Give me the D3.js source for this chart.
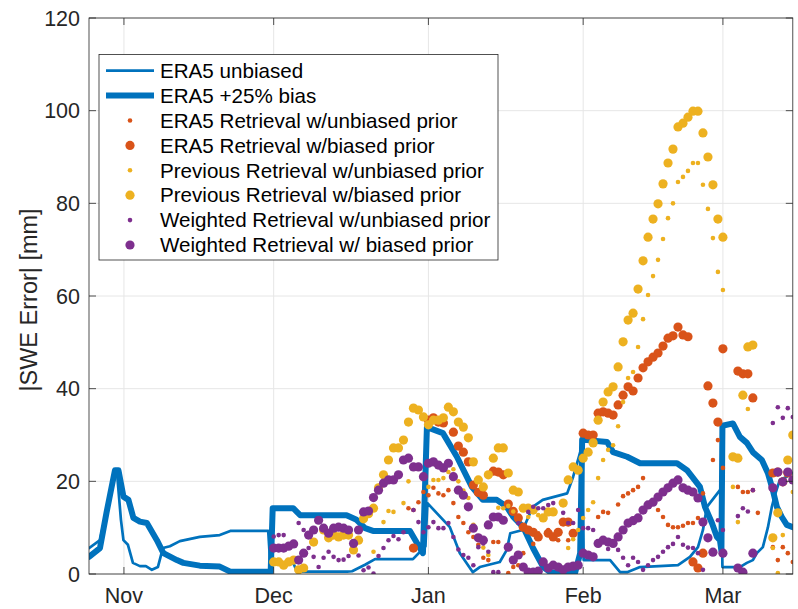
<!DOCTYPE html>
<html><head><meta charset="utf-8">
<script src="https://cdn.jsdelivr.net/npm/d3@7"></script>
<style>body{margin:0;background:#fff} svg{display:block}</style>
</head><body>
<svg id="chart" width="798" height="609"></svg>
<script>
// ---------------- DATA ----------------
const seasonStart = "2018-10-25";
const seasonEnd = "2019-03-15";
const scatterStart = "2018-12-01";   // first day of the daily retrieval series
const yTicks = [0, 20, 40, 60, 80, 100, 120];
const monthTicks = ["2018-11-01", "2018-12-01", "2019-01-01", "2019-02-01", "2019-03-01"];
const monthLabels = ["Nov", "Dec", "Jan", "Feb", "Mar"];

// ERA5 unbiased (thin line): days since season start, SWE error
const unbiasedDays = [0, 2.2, 3.5, 5.0, 5.6, 6.4, 6.9, 7.8, 8.8, 10.2, 11.4, 12.6, 13.8, 14.8, 16.2, 18.2, 22.2, 26.2, 28.3, 35.9, 36.3, 40.9, 41.7, 51.7, 52.7, 55.3, 57.3, 64.9, 67.4, 67.8, 72.3, 74.3, 76.9, 78.3, 82.3, 83.7, 84.4, 86.9, 88.9, 90.9, 95.8, 97.0, 98.6, 98.9, 99.1, 104.4, 106.4, 107.8, 110.4, 118.0, 120.4, 122.0, 123.0, 123.8, 126.4, 126.7, 126.9, 130.4, 131.8, 133.0, 133.8, 135.0, 136.0, 136.8, 137.4, 138.4, 139.8, 141];
const unbiasedValues = [5.6, 7.3, 13.8, 22, 22, 11.7, 7.3, 6.3, 2.4, 1.7, 1.7, 0.9, 1.5, 5.6, 6.0, 7.1, 8.0, 8.4, 9.3, 9.3, 2.4, 2.4, 0.5, 0.5, 0.6, 2.0, 3.2, 3.2, 6.0, 15.3, 10.1, 4.5, 0.4, 1.5, 2.6, 5.2, 8.8, 9.5, 14.5, 16, 17.4, 21, 27, 29, 3, 3, 0.4, 0.4, 1.5, 1.9, 3.7, 5.8, 9.5, 14.5, 18.1, 18, 1.5, 1.5, 2.4, 3.0, 4.5, 5.8, 10.0, 14.5, 17, 20.3, 21, 21.8];

// ERA5 +25% bias (thick line)
const biasedDays = [0, 2.2, 3.5, 5.2, 5.9, 6.9, 7.9, 8.9, 10.2, 11.6, 13.6, 14.9, 17.6, 18.9, 22.2, 26.2, 28.3, 36.4, 36.8, 40.9, 42.3, 51.6, 53.6, 55.3, 56.9, 64.3, 66.9, 67.7, 70.9, 73.7, 76.7, 78.9, 81.7, 83.7, 85.0, 87.0, 89.0, 91.0, 92.5, 97.4, 98.4, 98.8, 103.8, 105.0, 107.8, 110.4, 117.8, 119.8, 122.4, 123.4, 124.8, 125.8, 126.4, 126.7, 126.9, 129.0, 130.4, 131.8, 133.0, 134.8, 136.0, 137.0, 137.8, 138.8, 139.8, 141];
const biasedValues = [3.7, 5.6, 13.2, 22.4, 22.4, 16.7, 16, 12.1, 11.3, 11, 7.3, 4.5, 3.0, 2.4, 1.8, 1.6, 0.5, 0.5, 14.2, 14.2, 12.7, 12.7, 11.7, 9.9, 9.3, 9.3, 4.5, 31.7, 30.4, 25.3, 18.8, 16, 16, 14.5, 12.3, 10.1, 5.5, 1.5, 0.3, 0.3, 4.5, 29, 28.5, 26.3, 25.3, 23.9, 23.9, 22.4, 18.8, 14.5, 11, 8, 7.3, 5, 32, 32.5, 29.6, 28.3, 26.3, 24.6, 21.8, 18.1, 14.5, 12.3, 10.6, 10.1];

// Daily retrievals from Dec 1 (null = no retrieval that day)
const era5Unbiased = [null,null,null,null,null,null,null,null,null,null,null,null,null,null,null,null,null,null,null,null,null,null,null,null,null,null,null,14.2,13.8,15.5,17.7,17,18.6,17.4,17,18.1,15.3,12.3,11,9,8,6.3,3.5,3,6.9,6.9,null,0.2,1.5,1.9,4.5,null,6.5,8.8,null,9.5,null,7.3,null,7.3,null,null,null,null,null,12.3,13.4,13.2,null,15,16.8,17.4,18.1,18.8,20.7,null,null,13.8,12.3,10.6,10.1,10.1,10.4,11,11,12.1,17.4,null,24.6,28.9,22.9,null,null,18.8,17.7,17.7,18.1,13.2,null,null,5.8,3,5.8,4.5,2.6];
const era5Biased = [null,null,null,null,null,null,null,null,null,null,null,null,null,null,null,null,null,null,null,null,null,null,null,null,null,null,null,null,5.6,null,null,33.2,33.7,32.8,32.6,null,30.6,27.6,26.3,24.2,19.2,17.6,17,null,22.2,22,21.4,15.1,13.5,12.1,10.1,9.5,9,8,null,8.8,8,9,11.2,11.2,8.8,null,30.4,30,30,34.7,35,34.7,34.3,36.5,38.6,40.4,39.5,42.3,44.5,45.8,46.8,47.7,49.2,50.9,51.4,53.3,51.6,51.2,2.6,1.3,4.5,40.6,36.9,32.8,48.6,null,null,43.8,43.2,43.2,38,null,null,null,21.8,22,19.9,21.8,null];
const prevUnbiased = [null,null,null,null,null,null,null,null,null,null,null,null,null,null,null,null,null,null,null,null,4.8,null,11.2,13.6,13.4,null,15.3,20,23,null,null,18.8,20.3,20.3,20.7,22,22.6,20,18,16.4,10.6,8,5.7,4.1,null,14.3,14.2,14.7,13.5,null,13.8,12.3,null,12.7,null,null,null,null,null,5.6,7.5,9.5,12.1,13.8,15.5,20.7,24.6,26.8,27.8,31.9,37.1,42.3,43.6,49,55,60.2,64.3,67.8,72.3,76.8,80,84.6,85.7,87,88.7,88.7,84,78.8,72.5,65.2,61.3,null,18.8,11.2,null,35.6,null,null,null,null,5.6,0.2,8.4,null,17.7];
const prevBiased = [2.6,2.6,1.9,2.6,3.0,0.9,1.3,null,6.9,null,9.5,7.8,8.4,8,8.4,8.4,5.2,7.3,11.9,13,14.2,18.6,21.4,24.6,27.2,27.2,28.9,32.8,35.8,35.4,33.9,32.2,33.2,33.2,33.7,36,35,32.8,31.7,29.4,24.2,20.3,18.8,21.4,25,27.2,27.2,21.8,18.1,17.7,14.2,14.2,13.8,null,12.1,13.4,13.4,null,15.3,20.3,23.1,22.4,25,26.3,28.3,33.2,37.1,39.3,40.4,44.7,50.1,54.8,56.3,61.5,67.6,72.7,76.6,79.9,84.2,88.7,91.7,96.5,97.3,98.6,99.9,99.9,95.2,90,84,76.6,72.7,null,25.3,25,38.6,49,49.4,null,null,null,7.8,13.2,null,24.6,30];
const weightedUnbiased = [8.1,8.4,8.4,null,null,11,9.5,5.6,3.7,1.5,3.5,4.8,3.7,3.0,3.1,3.9,null,4.0,0.8,1.4,0.1,3.9,5.6,7.3,8.2,7.5,9,null,13.8,11.2,9,10.1,11.2,9.9,9.9,11,8,5.3,4.1,3.5,1.9,5.8,6.6,4.8,0.4,0.4,null,null,null,11,null,13.4,14.5,14.2,14.2,14.9,15.3,null,13.2,11,11,13.8,9.9,9.9,9.5,null,null,5.4,null,5.2,3.5,1.9,3.5,2.6,0.9,1.9,3,3.7,4.8,5.8,6.5,8,6.3,5.7,5.6,4.5,0.9,null,null,11.6,9.5,null,null,12.5,14.2,13.5,18.1,null,null,null,32.6,36,33.7,35.8,33.9];
const weightedBiased = [5.6,5.6,5.6,6.0,6.5,3.0,4.5,8.4,9.5,11.6,9.9,8.8,9.9,10.1,9.9,9.5,6.6,9.5,13.4,13.6,16.5,18.1,19.6,20.3,20.3,21.4,24.6,25,23.1,23.1,21,23.9,24.2,23.5,22.9,23.9,21,18.1,17,14.5,9.9,7.8,7.3,10.6,12.3,12.3,11.6,5.8,3.0,4.1,1.5,0.4,0.4,0.6,2.6,1.3,1.9,1.5,0.9,1.5,1.7,1.9,4.5,4.1,3.7,6.6,7.3,6.9,6.6,8,9.5,11,11.5,12.1,13.8,14.9,15.5,16.6,17.7,18.6,19.6,20.3,18.6,18.1,17.7,16.4,11.2,7.8,4.7,null,4.5,null,null,1.3,0.4,null,4.5,null,null,null,18.6,22,19.9,22,20.3];

const lineSeries = [
  {name: "ERA5 unbiased", days: unbiasedDays, values: unbiasedValues, width: 2.7},
  {name: "ERA5 +25% bias", days: biasedDays, values: biasedValues, width: 6}
];
const dotSeries = [
  {name: "ERA5 Retrieval w/unbiased prior", values: era5Unbiased, color: "#D95319", r: 2.3},
  {name: "ERA5 Retrieval w/biased prior", values: era5Biased, color: "#D95319", r: 4.6},
  {name: "Previous Retrieval w/unbiased prior", values: prevUnbiased, color: "#EDB120", r: 2.3},
  {name: "Previous Retrieval w/biased prior", values: prevBiased, color: "#EDB120", r: 4.6},
  {name: "Weighted Retrieval w/unbiased prior", values: weightedUnbiased, color: "#7E2F8E", r: 2.3},
  {name: "Weighted Retrieval w/ biased prior", values: weightedBiased, color: "#7E2F8E", r: 4.6}
];
const lineColor = "#0072BD";

// ---------------- CHART ----------------
const svg = d3.select("#chart");
const font = "'Liberation Sans', Arial, Helvetica, sans-serif";
const axisColor = "#262626";
const parse = d3.utcParse("%Y-%m-%d");
const t0 = parse(seasonStart), t1 = parse(seasonEnd), s0 = parse(scatterStart);
const pL = 89, pR = 792.8, pT = 18, pB = 574;

const x = d3.scaleUtc().domain([t0, t1]).range([pL, pR]);
const y = d3.scaleLinear().domain([0, 120]).range([pB, pT]);
const dayToDate = d => new Date(+t0 + d * 864e5);

// grid
const grid = svg.append("g");
grid.selectAll("line.gy").data(yTicks).join("line")
  .attr("x1", pL).attr("x2", pR).attr("y1", d => y(d)).attr("y2", d => y(d))
  .attr("stroke", "#e6e6e6").attr("stroke-width", 1);
grid.selectAll("line.gx").data(monthTicks).join("line")
  .attr("x1", d => x(parse(d))).attr("x2", d => x(parse(d))).attr("y1", pT).attr("y2", pB)
  .attr("stroke", "#e6e6e6").attr("stroke-width", 1);

// plot clip
svg.append("clipPath").attr("id", "clip").append("rect")
  .attr("x", pL).attr("y", pT).attr("width", pR - pL).attr("height", pB - pT);
const plot = svg.append("g").attr("clip-path", "url(#clip)");

// lines
const lineGen = d3.line().x(d => x(d.t)).y(d => y(d.v)).curve(d3.curveLinear);
lineSeries.forEach(s => {
  const pts = s.days.map((d, i) => ({t: dayToDate(d), v: s.values[i]}));
  plot.append("path").datum(pts).attr("d", lineGen)
    .attr("fill", "none").attr("stroke", lineColor).attr("stroke-width", s.width)
    .attr("stroke-linejoin", "round").attr("stroke-linecap", "round");
});

// dots
dotSeries.forEach(s => {
  const pts = s.values.map((v, i) => ({t: d3.utcDay.offset(s0, i), v})).filter(d => d.v != null);
  plot.append("g").selectAll("circle").data(pts).join("circle")
    .attr("cx", d => x(d.t)).attr("cy", d => y(d.v)).attr("r", s.r).attr("fill", s.color);
});

// axes frame and ticks
const axes = svg.append("g");
axes.append("rect").attr("x", pL).attr("y", pT).attr("width", pR - pL).attr("height", pB - pT)
  .attr("fill", "none").attr("stroke", axisColor).attr("stroke-width", 0.8);
const tl = 7;
yTicks.forEach(v => {
  axes.append("line").attr("x1", pL).attr("x2", pL + tl).attr("y1", y(v)).attr("y2", y(v)).attr("stroke", axisColor).attr("stroke-width", 0.8);
  axes.append("line").attr("x1", pR).attr("x2", pR - tl).attr("y1", y(v)).attr("y2", y(v)).attr("stroke", axisColor).attr("stroke-width", 0.8);
  axes.append("text").attr("x", pL - 9).attr("y", y(v)).attr("dy", "0.36em")
    .attr("text-anchor", "end").attr("font-family", font).attr("font-size", 21.5).attr("fill", axisColor).text(v);
});
monthTicks.forEach((m, i) => {
  const px = x(parse(m));
  axes.append("line").attr("x1", px).attr("x2", px).attr("y1", pB).attr("y2", pB - tl).attr("stroke", axisColor).attr("stroke-width", 0.8);
  axes.append("line").attr("x1", px).attr("x2", px).attr("y1", pT).attr("y2", pT + tl).attr("stroke", axisColor).attr("stroke-width", 0.8);
  axes.append("text").attr("x", px).attr("y", pB + 29)
    .attr("text-anchor", "middle").attr("font-family", font).attr("font-size", 21.5).attr("fill", axisColor).text(monthLabels[i]);
});
svg.append("text").attr("transform", `translate(37,${(pT + pB) / 2 + 4}) rotate(-90)`)
  .attr("text-anchor", "middle").attr("font-family", font).attr("font-size", 23.5).attr("fill", axisColor)
  .text("|SWE Error| [mm]");

// legend
const lg = svg.append("g");
const lx = 99, ly = 54.5, lw = 399, lh = 205.5, rowH = 24.9, row0 = 70.7;
lg.append("rect").attr("x", lx).attr("y", ly).attr("width", lw).attr("height", lh)
  .attr("fill", "#fff").attr("stroke", axisColor).attr("stroke-width", 0.8);
const entries = lineSeries.map(s => ({name: s.name, type: "line", width: s.width}))
  .concat(dotSeries.map(s => ({name: s.name, type: "dot", r: s.r, color: s.color})));
entries.forEach((e, i) => {
  const cy = row0 + i * rowH;
  if (e.type === "line") {
    lg.append("line").attr("x1", 106).attr("x2", 154).attr("y1", cy).attr("y2", cy)
      .attr("stroke", lineColor).attr("stroke-width", e.width);
  } else {
    lg.append("circle").attr("cx", 130).attr("cy", cy).attr("r", e.r).attr("fill", e.color);
  }
  lg.append("text").attr("x", 160).attr("y", cy).attr("dy", "0.35em")
    .attr("font-family", font).attr("font-size", 20.6).attr("fill", "#000").text(e.name);
});
</script>
</body></html>
